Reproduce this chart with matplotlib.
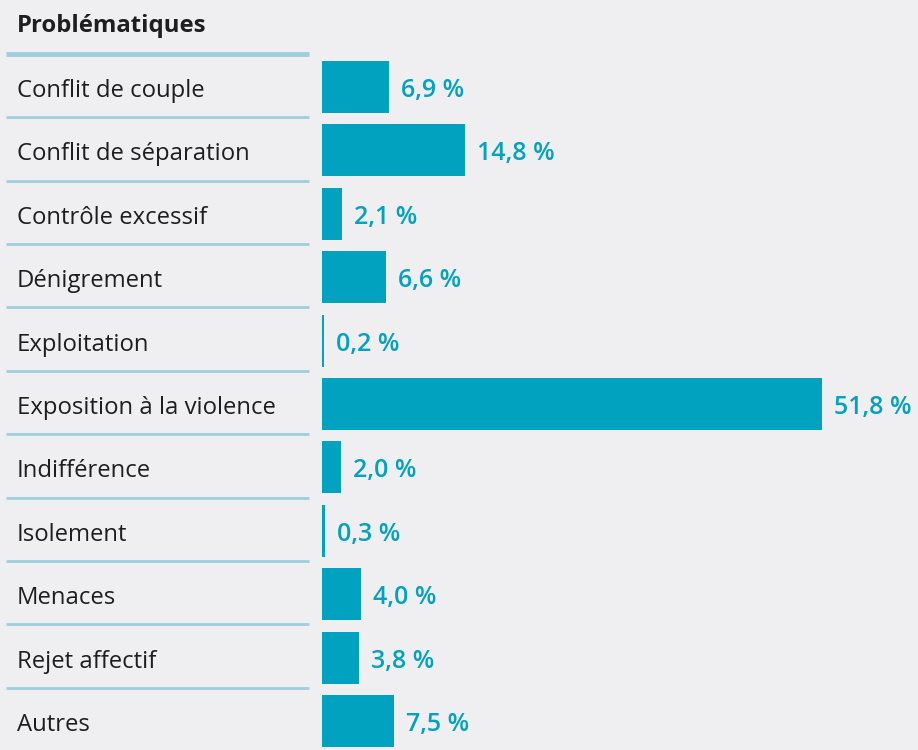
import matplotlib
matplotlib.use("Agg")
import matplotlib.pyplot as plt

categories = ["Conflit de couple", "Conflit de séparation", "Contrôle excessif",
              "Dénigrement", "Exploitation", "Exposition à la violence",
              "Indifférence", "Isolement", "Menaces", "Rejet affectif", "Autres"]
values = [6.9, 14.8, 2.1, 6.6, 0.2, 51.8, 2.0, 0.3, 4.0, 3.8, 7.5]
value_labels = ["6,9 %", "14,8 %", "2,1 %", "6,6 %", "0,2 %", "51,8 %",
                "2,0 %", "0,3 %", "4,0 %", "3,8 %", "7,5 %"]
title = "Problématiques"

bar_color = "#00a2c0"
line_color = "#9dcfdd"
text_color = "#1e1e1e"
bg_color = "#efeff2"

plt.rcParams['font.family'] = ['Open Sans', 'DejaVu Sans']

W, H = 918, 750
fig = plt.figure(figsize=(W / 100, H / 100), dpi=100)
fig.patch.set_facecolor(bg_color)
ax = fig.add_axes([0, 0, 1, 1])
ax.set_facecolor(bg_color)

# pixel layout -> data coordinates
px_per_unit = 9.65
x0 = 322
row0 = 87
row_step = 63.4

def px_x(p):
    return (p - x0) / px_per_unit

def px_y(p):
    return (p - row0) / row_step

ax.set_xlim(px_x(0), px_x(W))
ax.set_ylim(px_y(H), px_y(0))
ax.axis("off")

n = len(categories)
ypos = list(range(n))
ax.barh(ypos, values, height=0.82, color=bar_color, left=0)

for i, (cat, v, lab) in enumerate(zip(categories, values, value_labels)):
    ax.text(px_x(17), i + px_y(row0 + 10), cat, fontsize=17.2, color=text_color,
            va="baseline", ha="left")
    ax.text(v + px_x(x0 + 12), i + px_y(row0 + 10), lab, fontsize=18,
            fontweight="semibold", color=bar_color, va="baseline", ha="left")

# separators
ax.plot([px_x(6), px_x(309)], [-0.5 - 0.02, -0.5 - 0.02], color=line_color,
        lw=3.5, solid_capstyle="butt")
for i in range(n - 1):
    y = i + 0.5 - 0.025
    ax.plot([px_x(6), px_x(309)], [y, y], color=line_color, lw=2,
            solid_capstyle="butt")

ax.text(px_x(17), px_y(32), title, fontsize=17.2, fontweight="bold",
        color=text_color, va="baseline", ha="left")

fig.savefig("out.png", dpi=100, facecolor=bg_color)
